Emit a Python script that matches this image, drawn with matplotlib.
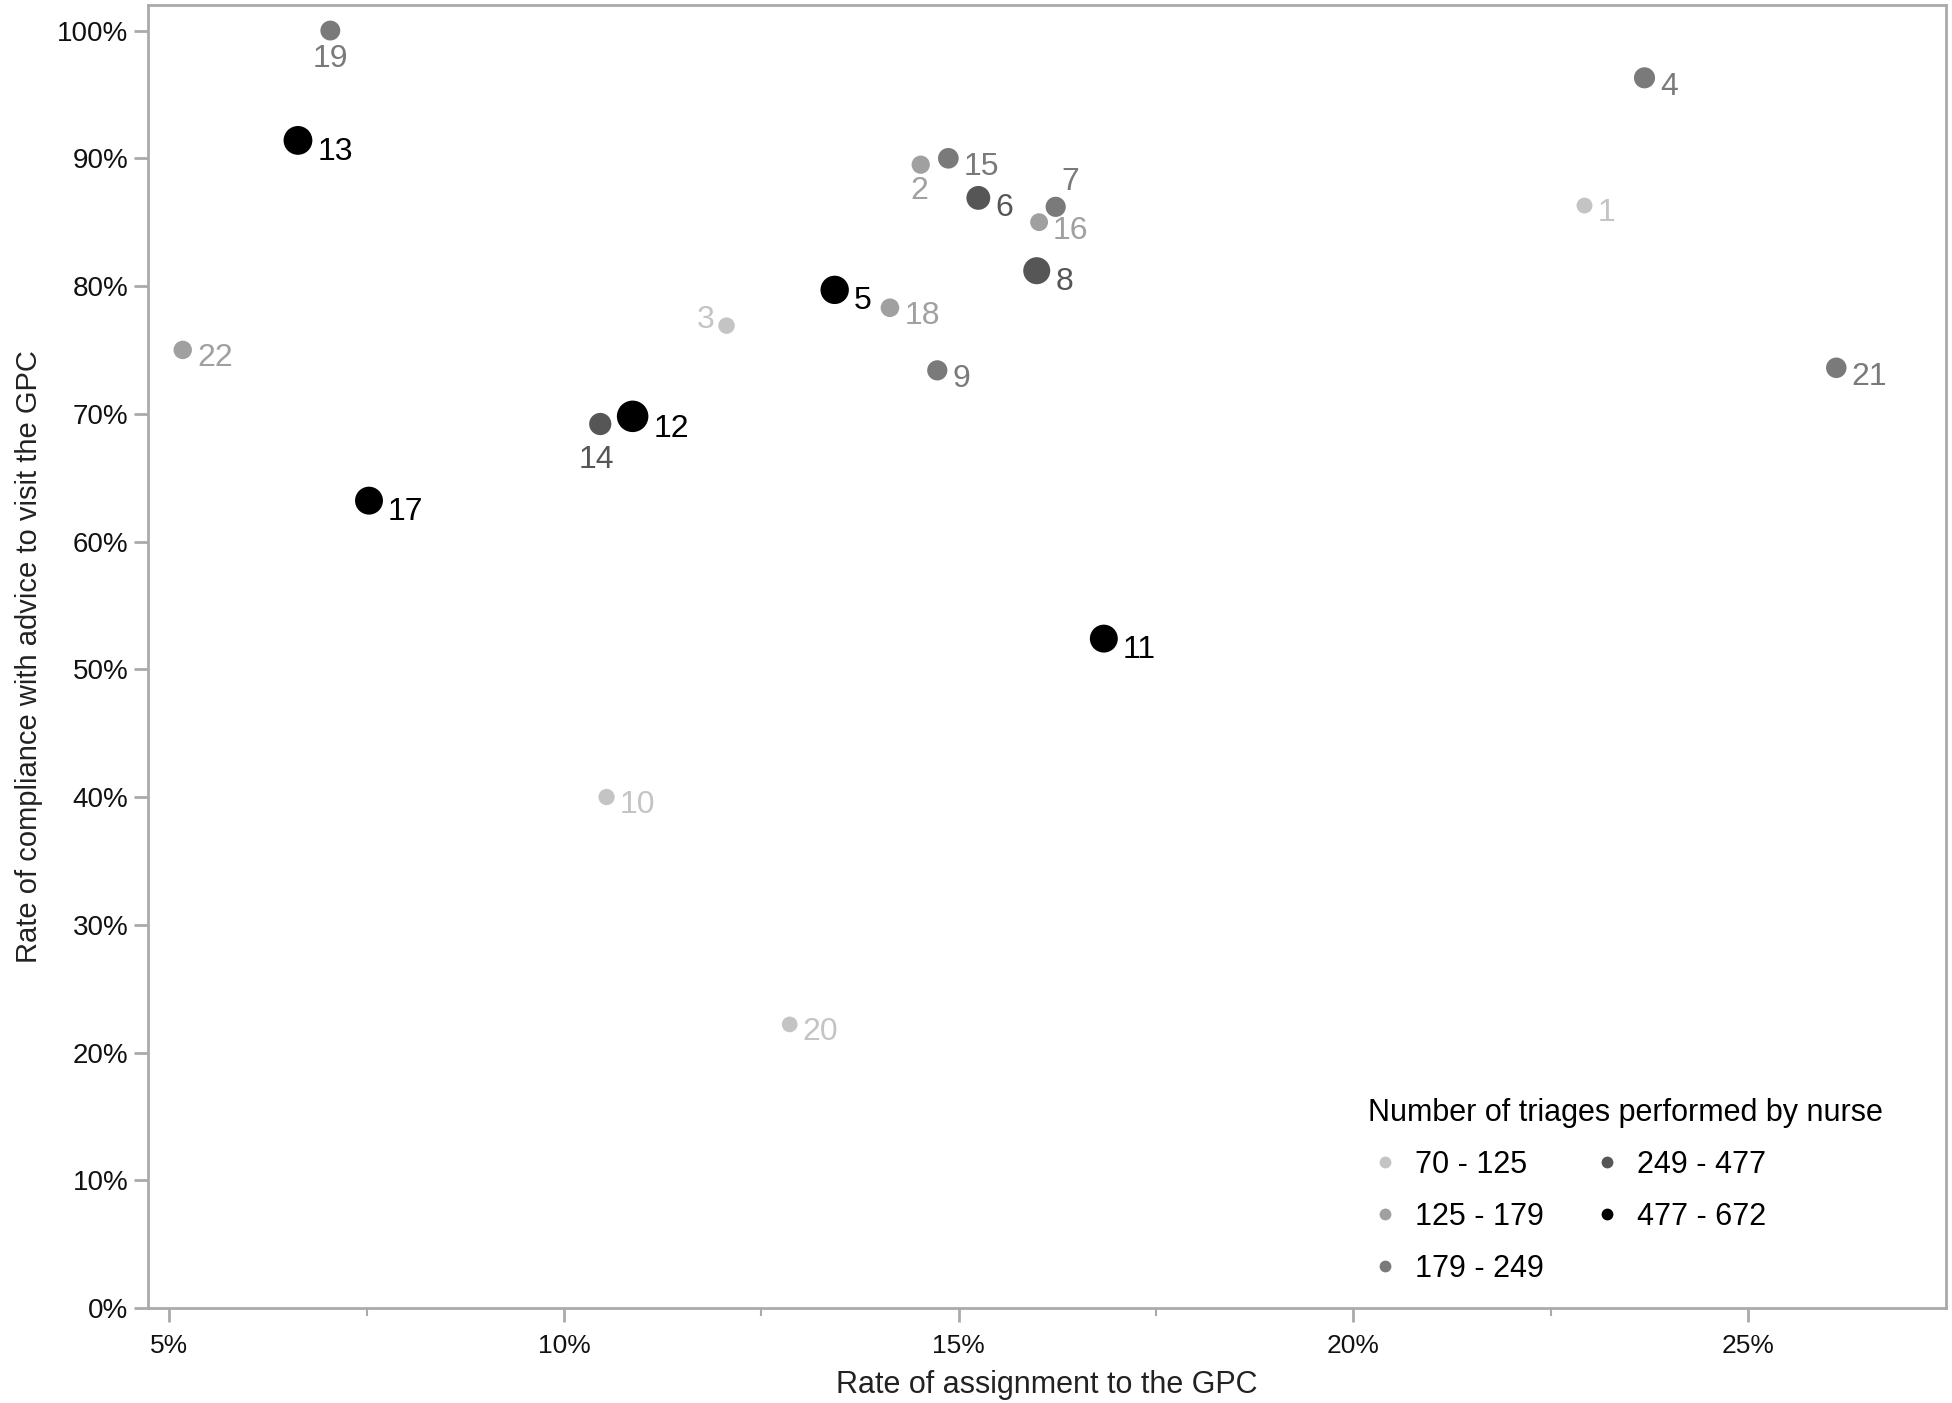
import numpy as np
import matplotlib
matplotlib.use('Agg')
import matplotlib.pyplot as plt
from matplotlib.lines import Line2D
from matplotlib.ticker import FixedLocator, FuncFormatter

plt.rcParams['font.family'] = ['Liberation Sans', 'DejaVu Sans']

# nurse id, rate of assignment to GPC (%), compliance rate (%), number of triages (estimated)
nurse = [1, 2, 3, 4, 5, 6, 7, 8, 9, 10, 11, 12, 13, 14, 15, 16, 17, 18, 19, 20, 21, 22]
assign = [22.93, 14.52, 12.06, 23.69, 13.43, 15.25, 16.23, 15.99, 14.73, 10.54, 16.84,
          10.87, 6.63, 10.46, 14.87, 16.02, 7.53, 14.13, 7.04, 12.86, 26.12, 5.17]
comply = [86.3, 89.5, 76.9, 96.3, 79.7, 86.9, 86.2, 81.2, 73.4, 40.0, 52.4,
          69.8, 91.4, 69.2, 90.0, 85.0, 63.2, 78.3, 100.0, 22.2, 73.6, 75.0]
triages = [75, 140, 90, 230, 520, 330, 200, 460, 200, 85, 500,
           672, 540, 270, 215, 128, 500, 150, 190, 70, 210, 145]

bin_edges = [70, 125, 179, 249, 477, 672]
bin_labels = ['70 - 125', '125 - 179', '179 - 249', '249 - 477', '477 - 672']
bin_colors = ['#c4c4c4', '#a0a0a0', '#7a7a7a', '#565656', '#000000']

x_ticks = [5, 10, 15, 20, 25]
x_minor = [7.5, 12.5, 17.5, 22.5]
y_ticks = [0, 10, 20, 30, 40, 50, 60, 70, 80, 90, 100]

DPI = 100
fig = plt.figure(figsize=(19.52, 14.03), dpi=DPI)
ax = fig.add_axes([148 / 1952, 1 - 1308 / 1403, 1798 / 1952, 1303 / 1403])

def bin_of(n):
    for i in range(len(bin_labels)):
        if n <= bin_edges[i + 1]:
            return i
    return len(bin_labels) - 1

radius_px = [np.sqrt(40 + 0.31 * n) for n in triages]
colors = [bin_colors[bin_of(n)] for n in triages]
sizes = [(2 * r * 72 / DPI) ** 2 for r in radius_px]

ax.scatter(assign, comply, s=sizes, c=colors, linewidths=0, zorder=3)

# label placement exceptions: (dx px, dy px, ha)
special = {19: (0, -28, 'center'), 2: (-1, -26, 'center'), 14: (-4, -36, 'center'),
           7: (6, 25, 'left'), 3: (-12, 6, 'right')}
for i, n in enumerate(nurse):
    r = radius_px[i]
    if n in special:
        dx, dy, ha = special[n]
    else:
        dx, dy, ha = r + 5, -0.6 * r - 3, 'left'
    ax.annotate(str(n), (assign[i], comply[i]), xytext=(dx, dy), textcoords='offset pixels',
                ha=ha, va='center', fontsize=23, color=colors[i], zorder=4)

ax.set_xlim(4.73, 27.51)
ax.set_ylim(0, 102)
ax.xaxis.set_major_locator(FixedLocator(x_ticks))
ax.xaxis.set_minor_locator(FixedLocator(x_minor))
ax.yaxis.set_major_locator(FixedLocator(y_ticks))
pct = FuncFormatter(lambda v, p: f'{v:g}%')
ax.xaxis.set_major_formatter(pct)
ax.yaxis.set_major_formatter(pct)

for s in ax.spines.values():
    s.set_color('#aaaaaa')
    s.set_linewidth(2)
ax.tick_params(axis='both', which='major', color='#aaaaaa', width=2, labelcolor='#111111')
ax.tick_params(axis='x', which='major', length=10, pad=9, labelsize=19)
ax.tick_params(axis='y', which='major', length=10, pad=4, labelsize=20)
ax.tick_params(axis='x', which='minor', color='#aaaaaa', width=1.5, length=6)

ax.set_xlabel('Rate of assignment to the GPC', fontsize=22, color='#222222', labelpad=8)
ax.set_ylabel('Rate of compliance with advice to visit the GPC', fontsize=21,
              color='#222222', labelpad=10)

handles = [Line2D([], [], marker='o', linestyle='none', markersize=8.5,
                  markerfacecolor=c, markeredgewidth=0) for c in bin_colors]
leg = ax.legend(handles, bin_labels, title='Number of triages performed by nurse',
                ncol=2, loc='upper left', bbox_to_anchor=(0.670, 0.173), frameon=False,
                fontsize=22, title_fontsize=22, alignment='left', borderpad=0,
                handletextpad=0.43, columnspacing=1.52, labelspacing=0.72, handlelength=1.1)

fig.savefig('out.png', dpi=DPI)
